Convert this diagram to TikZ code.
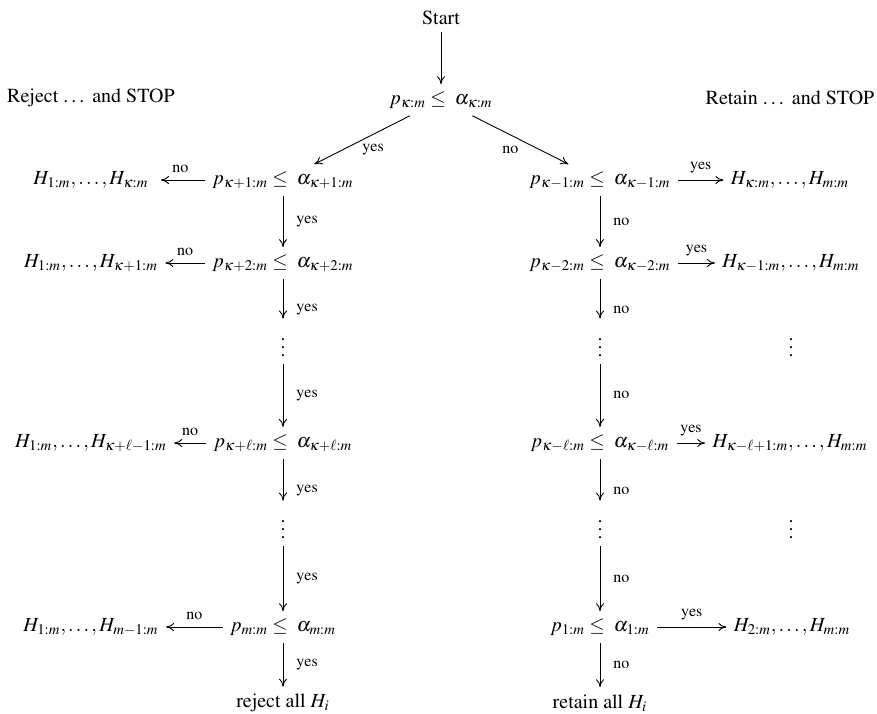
\documentclass[tikz,border=0pt]{standalone}
\usepackage[T1]{fontenc}
\usepackage{mathptmx}
\usetikzlibrary{arrows.meta}
\begin{document}
\begin{tikzpicture}[x=0.5pt,y=-0.5pt,
  nd/.style={inner sep=3.5pt},
  dts/.style={inner sep=3.5pt, anchor=base},
  lbl/.style={font=\footnotesize, inner sep=1.5pt},
  arr/.style={-{Computer Modern Rightarrow[length=4pt,width=4pt]}, line width=0.45pt}]
\useasboundingbox (0,0) rectangle (877,713);
% top
\node[nd] (start) at (441,18) {Start};
\node[nd] (top) at (441,100) {$p_{\kappa:m}\leq\;\alpha_{\kappa:m}$};
\node[nd] (rejstop) at (91,98) {Reject \ldots\ and STOP};
\node[nd] (retstop) at (790,98) {Retain \ldots\ and STOP};
% row 1
\node[nd] (hl1) at (91,180) {$H_{1:m},\ldots,H_{\kappa:m}$};
\node[nd] (l1) at (283,180) {$p_{\kappa+1:m}\leq\;\alpha_{\kappa+1:m}$};
\node[nd] (r1) at (600,180) {$p_{\kappa-1:m}\leq\;\alpha_{\kappa-1:m}$};
\node[nd] (hr1) at (790,180) {$H_{\kappa:m},\ldots,H_{m:m}$};
% row 2
\node[nd] (hl2) at (91,263) {$H_{1:m},\ldots,H_{\kappa+1:m}$};
\node[nd] (l2) at (283,263) {$p_{\kappa+2:m}\leq\;\alpha_{\kappa+2:m}$};
\node[nd] (r2) at (600,263) {$p_{\kappa-2:m}\leq\;\alpha_{\kappa-2:m}$};
\node[nd] (hr2) at (791,263) {$H_{\kappa-1:m},\ldots,H_{m:m}$};
% dots 1
\node[dts] (ld1) at (283,356) {$\vdots$};
\node[dts] (rd1) at (600,356) {$\vdots$};
\node[dts] (rdr1) at (791,356) {$\vdots$};
% row l
\node[nd] (hlL) at (91,443) {$H_{1:m},\ldots,H_{\kappa+\ell-1:m}$};
\node[nd] (lL) at (283,443) {$p_{\kappa+\ell:m}\leq\;\alpha_{\kappa+\ell:m}$};
\node[nd] (rL) at (600,443) {$p_{\kappa-\ell:m}\leq\;\alpha_{\kappa-\ell:m}$};
\node[nd] (hrL) at (790,443) {$H_{\kappa-\ell+1:m},\ldots,H_{m:m}$};
% dots 2
\node[dts] (ld2) at (283,538) {$\vdots$};
\node[dts] (rd2) at (600,538) {$\vdots$};
\node[dts] (rdr2) at (791,538) {$\vdots$};
% row m
\node[nd] (hlM) at (91,627) {$H_{1:m},\ldots,H_{m-1:m}$};
\node[nd] (lM) at (283,627) {$p_{m:m}\leq\;\alpha_{m:m}$};
\node[nd] (rM) at (600,627) {$p_{1:m}\leq\;\alpha_{1:m}$};
\node[nd] (hrM) at (792,627) {$H_{2:m},\ldots,H_{m:m}$};
% final
\node[nd] (rejall) at (283,703) {reject all $H_i$};
\node[nd] (retall) at (600,703) {retain all $H_i$};
% connectors
\draw[arr] (start) -- (top);
\draw[arr] (top) -- node[lbl, xshift=5.5pt, yshift=-5pt]{yes} (l1);
\draw[arr] (top) -- node[lbl, xshift=-5pt, yshift=-5pt]{no} (r1);
% left column
\draw[arr, shorten >=2.5pt] (l1) -- node[lbl, above=2pt]{no} (hl1);
\draw[arr] (l2) -- node[lbl, above=2pt]{no} (hl2);
\draw[arr] (lL) -- node[lbl, above=2pt]{no} (hlL);
\draw[arr] (lM) -- node[lbl, above=2pt]{no} (hlM);
\draw[arr] (l1) -- node[lbl, right=5pt]{yes} (l2);
\draw[arr] (l2) -- node[lbl, right=5pt, pos=0.77]{yes} (ld1);
\draw[arr] (ld1) -- node[lbl, right=5pt]{yes} (lL);
\draw[arr] (lL) -- node[lbl, right=5pt, pos=0.77]{yes} (ld2);
\draw[arr] (ld2) -- node[lbl, right=5pt]{yes} (lM);
\draw[arr] (lM) -- node[lbl, right=5pt]{yes} (rejall);
% right column
\draw[arr] (r1) -- node[lbl, above=2pt]{yes} (hr1);
\draw[arr] (r2) -- node[lbl, above=2pt]{yes} (hr2);
\draw[arr] (rL) -- node[lbl, above=2pt]{yes} (hrL);
\draw[arr] (rM) -- node[lbl, above=2pt]{yes} (hrM);
\draw[arr] (r1) -- node[lbl, right=5pt]{no} (r2);
\draw[arr] (r2) -- node[lbl, right=5pt, pos=0.77]{no} (rd1);
\draw[arr] (rd1) -- node[lbl, right=5pt]{no} (rL);
\draw[arr] (rL) -- node[lbl, right=5pt, pos=0.77]{no} (rd2);
\draw[arr] (rd2) -- node[lbl, right=5pt]{no} (rM);
\draw[arr] (rM) -- node[lbl, right=5pt]{no} (retall);
\end{tikzpicture}
\end{document}
